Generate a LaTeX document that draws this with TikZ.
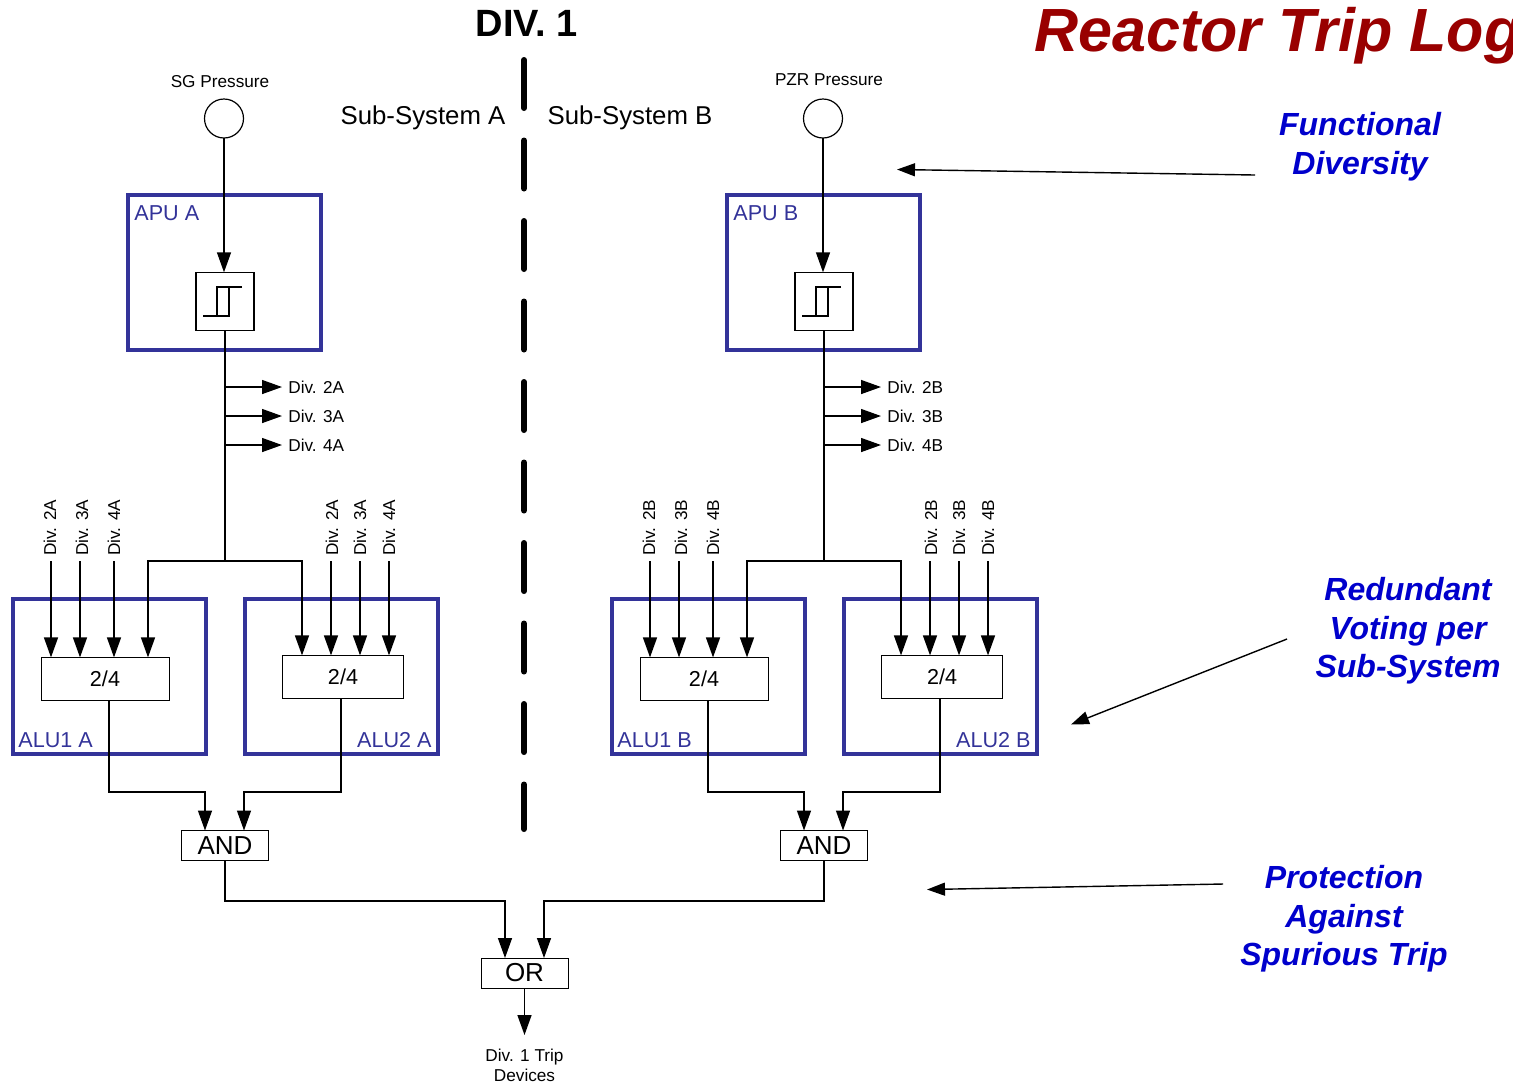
\documentclass[tikz,border=0pt]{standalone}
\usepackage{fontspec}
\setmainfont{Liberation Sans}
\usepackage{xcolor}
\usetikzlibrary{positioning,arrows.meta}
\definecolor{UnitBlue}{HTML}{333399}
\definecolor{NoteBlue}{HTML}{0000CC}
\definecolor{TitleRed}{HTML}{990000}

\begin{document}
\begin{tikzpicture}[
x=0.5pt, y=-0.5pt,
unit/.style={draw=UnitBlue, line width=2pt, minimum width=96.7pt, minimum height=77.2pt, outer sep=0pt, inner sep=0pt},
alu/.style={unit, minimum width=96.5pt, minimum height=77.3pt},
unitlabel/.style={text=UnitBlue, font=\fontsize{10.8}{13}\selectfont, inner sep=0pt},
sensor/.style={draw, circle, line width=0.6pt, minimum size=19.5pt, outer sep=0pt, inner sep=0pt},
bistable/.style={draw, line width=0.6pt, minimum size=29pt, outer sep=0pt, inner sep=0pt},
voter/.style={draw, line width=0.5pt, minimum width=64pt, minimum height=21.3pt, outer sep=0pt, inner sep=0pt, font=\fontsize{10.8}{13}\selectfont},
voterb/.style={voter, minimum width=60.3pt},
logic/.style={draw, line width=0.5pt, minimum width=43.5pt, minimum height=15pt, outer sep=0pt, inner sep=0pt, font=\fontsize{13}{15}\selectfont},
small/.style={font=\fontsize{8.6}{10}\selectfont, inner sep=0pt, align=center},
divtag/.style={small, anchor=west, rotate=90},
subsys/.style={font=\fontsize{12.9}{15}\selectfont, inner sep=0pt},
note/.style={text=NoteBlue, font=\fontsize{16}{19.3}\bfseries\itshape\selectfont, align=center, inner sep=0pt},
wire/.style={line width=0.7pt},
arrow/.style={wire, -{Triangle[length=10pt, width=7pt]}},
notearrow/.style={line width=0.7pt, -{Triangle[length=9pt, width=6.5pt]}},
divider/.style={line width=3pt, line cap=round}
]
\useasboundingbox (0,0) rectangle (1513,1084);

\node[font=\fontsize{19}{22}\bfseries\selectfont, inner sep=0pt] (div) at (527,23.5) {DIV. 1};
\node[text=TitleRed, font=\fontsize{30.5}{36}\bfseries\itshape\selectfont, anchor=base west, inner sep=0pt] (title) at (1034,51) {Reactor Trip Log};
\node[subsys] (subA) at (423,118) {Sub-System A};
\node[subsys] (subB) at (630,118) {Sub-System B};

\coordinate (divtop) at (524,60);
\coordinate (divend) at (524,829);
\draw[divider, dash pattern=on 24pt off 16.25pt] (divtop) -- (divend);

\node[unit] (apuA) at (224.7,272.5) {};
\node[unit] (apuB) at (823.7,272.5) {};
\node[unitlabel, anchor=west] (apuAlab) at (134,213.5) {APU A};
\node[unitlabel, anchor=west] (apuBlab) at (733,213.5) {APU B};

\node[sensor] (sgp) at (224,118.5) {};
\node[sensor] (pzr) at (823,118.5) {};
\node[small, above=5.5pt of sgp, xshift=-2pt] (sgplab) {SG Pressure};
\node[small, above=6.5pt of pzr, xshift=3pt] (pzrlab) {PZR Pressure};

\node[bistable] (bisA) at (225,301.3) {};
\node[bistable] (bisB) at (824,301.3) {};
\draw[wire] (203,316) -- (229,316) -- (229,287) (242,287) -- (217,287) -- (217,316);
\draw[wire] (802,316) -- (828,316) -- (828,287) (841,287) -- (816,287) -- (816,316);
\draw[arrow] (sgp.south) -- (sgp.south |- bisA.north);
\draw[arrow] (pzr.south) -- (pzr.south |- bisB.north);

\coordinate (joinA) at (225,561);
\coordinate (joinB) at (824,561);
\draw[wire] (bisA.south) -- (joinA);
\draw[wire] (bisB.south) -- (joinB);

\coordinate (outA2) at (282,387);
\coordinate (outA3) at (282,416);
\coordinate (outA4) at (282,445);
\coordinate (outB2) at (881,387);
\coordinate (outB3) at (881,416);
\coordinate (outB4) at (881,445);
\node[small, right=3pt of outA2] (labA2) {Div. 2A};
\node[small, right=3pt of outA3] (labA3) {Div. 3A};
\node[small, right=3pt of outA4] (labA4) {Div. 4A};
\node[small, right=3pt of outB2] (labB2) {Div. 2B};
\node[small, right=3pt of outB3] (labB3) {Div. 3B};
\node[small, right=3pt of outB4] (labB4) {Div. 4B};
\draw[arrow] (joinA |- outA2) -- (outA2);
\draw[arrow] (joinA |- outA3) -- (outA3);
\draw[arrow] (joinA |- outA4) -- (outA4);
\draw[arrow] (joinB |- outB2) -- (outB2);
\draw[arrow] (joinB |- outB3) -- (outB3);
\draw[arrow] (joinB |- outB4) -- (outB4);

\node[alu] (aluA1) at (109,676.7) {};
\node[alu] (aluA2) at (341,676.7) {};
\node[alu] (aluB1) at (708,676.7) {};
\node[alu] (aluB2) at (940,676.7) {};
\node[unitlabel, anchor=west] (aluA1lab) at (18,740.5) {ALU1 A};
\node[unitlabel, anchor=east] (aluA2lab) at (432,740.5) {ALU2 A};
\node[unitlabel, anchor=west] (aluB1lab) at (617,740.5) {ALU1 B};
\node[unitlabel, anchor=east] (aluB2lab) at (1031,740.5) {ALU2 B};

\node[voter] (votA1) at (105,678.7) {2/4};
\node[voterb] (votA2) at (343,676.7) {2/4};
\node[voter] (votB1) at (704,678.7) {2/4};
\node[voterb] (votB2) at (942,676.7) {2/4};

\node[divtag] (tagA12) at (50,556) {Div. 2A};
\node[divtag] (tagA13) at (82,556) {Div. 3A};
\node[divtag] (tagA14) at (114,556) {Div. 4A};
\node[divtag] (tagA22) at (332,556) {Div. 2A};
\node[divtag] (tagA23) at (360,556) {Div. 3A};
\node[divtag] (tagA24) at (389,556) {Div. 4A};
\node[divtag] (tagB12) at (649,556) {Div. 2B};
\node[divtag] (tagB13) at (681,556) {Div. 3B};
\node[divtag] (tagB14) at (713,556) {Div. 4B};
\node[divtag] (tagB22) at (931,556) {Div. 2B};
\node[divtag] (tagB23) at (959,556) {Div. 3B};
\node[divtag] (tagB24) at (988,556) {Div. 4B};

\coordinate (inA12) at (51,561);
\coordinate (inA13) at (80,561);
\coordinate (inA14) at (114,561);
\coordinate (inA22) at (331,561);
\coordinate (inA23) at (360,561);
\coordinate (inA24) at (389,561);
\coordinate (inB12) at (650,561);
\coordinate (inB13) at (679,561);
\coordinate (inB14) at (713,561);
\coordinate (inB22) at (930,561);
\coordinate (inB23) at (959,561);
\coordinate (inB24) at (988,561);
\draw[arrow] (inA12) -- (inA12 |- votA1.north);
\draw[arrow] (inA13) -- (inA13 |- votA1.north);
\draw[arrow] (inA14) -- (inA14 |- votA1.north);
\draw[arrow] (inA22) -- (inA22 |- votA2.north);
\draw[arrow] (inA23) -- (inA23 |- votA2.north);
\draw[arrow] (inA24) -- (inA24 |- votA2.north);
\draw[arrow] (inB12) -- (inB12 |- votB1.north);
\draw[arrow] (inB13) -- (inB13 |- votB1.north);
\draw[arrow] (inB14) -- (inB14 |- votB1.north);
\draw[arrow] (inB22) -- (inB22 |- votB2.north);
\draw[arrow] (inB23) -- (inB23 |- votB2.north);
\draw[arrow] (inB24) -- (inB24 |- votB2.north);

\coordinate (feedA1) at (148,561);
\coordinate (feedA2) at (302,561);
\coordinate (feedB1) at (747,561);
\coordinate (feedB2) at (901,561);
\draw[arrow] (joinA) -- (feedA1) -- (feedA1 |- votA1.north);
\draw[arrow] (joinA) -- (feedA2) -- (feedA2 |- votA2.north);
\draw[arrow] (joinB) -- (feedB1) -- (feedB1 |- votB1.north);
\draw[arrow] (joinB) -- (feedB2) -- (feedB2 |- votB2.north);

\node[logic] (andA) at (225,845.5) {AND};
\node[logic] (andB) at (824,845.5) {AND};
\coordinate (andA1) at (205,792);
\coordinate (andA2) at (244,792);
\coordinate (andB1) at (804,792);
\coordinate (andB2) at (843,792);
\draw[arrow] (aluA1 |- votA1.south) -- (aluA1 |- andA1) -- (andA1) -- (andA1 |- andA.north);
\draw[arrow] (aluA2 |- votA2.south) -- (aluA2 |- andA2) -- (andA2) -- (andA2 |- andA.north);
\draw[arrow] (aluB1 |- votB1.south) -- (aluB1 |- andB1) -- (andB1) -- (andB1 |- andB.north);
\draw[arrow] (aluB2 |- votB2.south) -- (aluB2 |- andB2) -- (andB2) -- (andB2 |- andB.north);

\node[logic] (orgate) at (524.5,973) {OR};
\coordinate (orA) at (505,901);
\coordinate (orB) at (544,901);
\draw[arrow] (andA.south) -- (andA.south |- orA) -- (orA) -- (orA |- orgate.north);
\draw[arrow] (andB.south) -- (andB.south |- orB) -- (orB) -- (orB |- orgate.north);

\coordinate (tripend) at (524.5,1035);
\node[small, below=7pt of tripend] (trip) {Div. 1 Trip\\Devices};
\draw[arrow] (orgate.south) -- (tripend);

\node[note] (noteF) at (1360,147) {Functional\\Diversity};
\node[note] (noteR) at (1408,631) {Redundant\\Voting per\\Sub-System};
\node[note] (noteP) at (1344,919) {Protection\\Against\\Spurious Trip};
\coordinate (noteFs) at (1255,175);
\coordinate (noteFe) at (897,169.5);
\coordinate (noteRs) at (1287,639);
\coordinate (noteRe) at (1071,724.5);
\coordinate (notePs) at (1223,884);
\coordinate (notePe) at (927,889.5);
\draw[notearrow] (noteFs) -- (noteFe);
\draw[notearrow] (noteRs) -- (noteRe);
\draw[notearrow] (notePs) -- (notePe);
\end{tikzpicture}
\end{document}
